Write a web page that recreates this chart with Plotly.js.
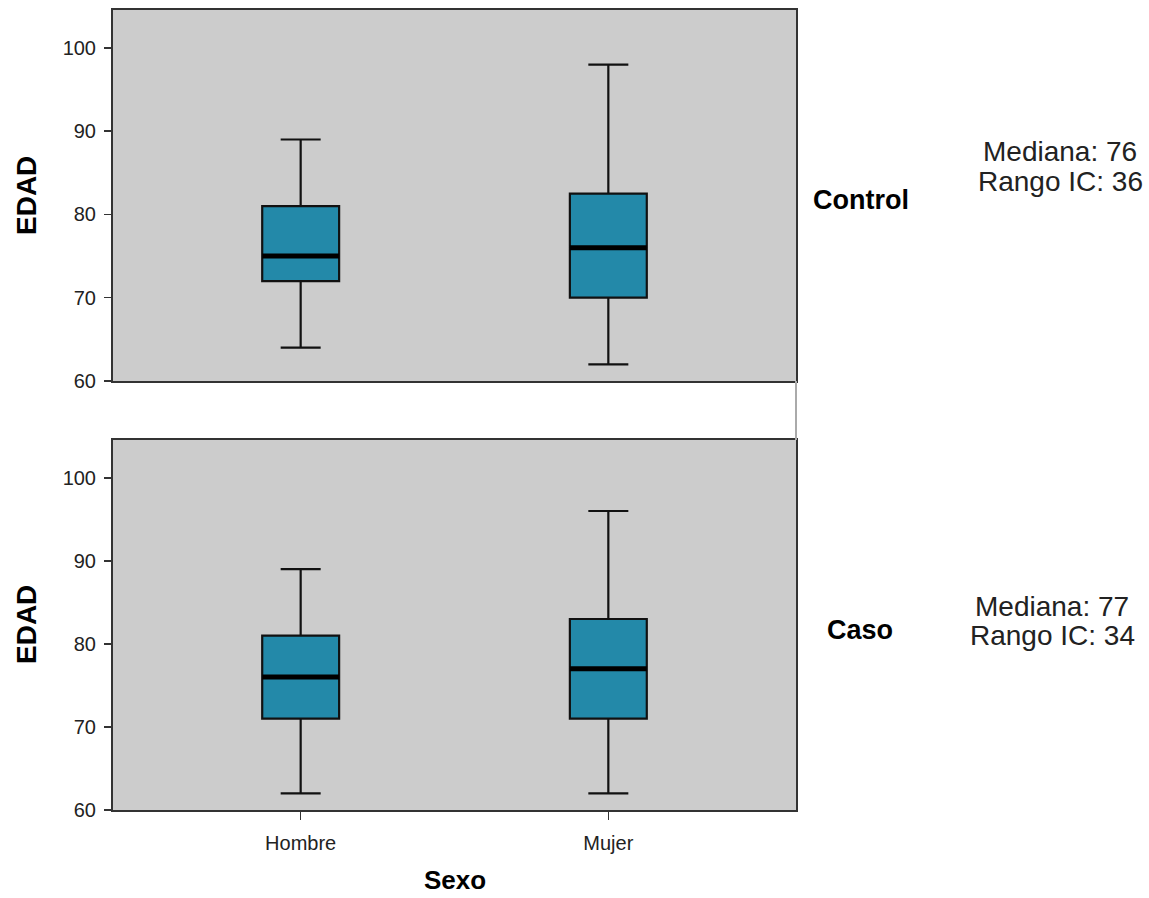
<!DOCTYPE html>
<html><head><meta charset="utf-8">
<script src="https://cdn.plot.ly/plotly-3.0.1.min.js"></script>
<style>html,body{margin:0;padding:0;background:#fff}</style>
</head><body><div id="chart" style="width:1149px;height:898px"></div>
<script>
// Data
const categories = ["Hombre", "Mujer"];
const groups = ["Control", "Caso"];
const controlQ1 = [72, 70];
const controlMedian = [75, 76];
const controlQ3 = [81, 82.5];
const controlLow = [64, 62];
const controlHigh = [89, 98];
const casoQ1 = [71, 71];
const casoMedian = [76, 77];
const casoQ3 = [81, 83];
const casoLow = [62, 62];
const casoHigh = [89, 96];
const groupMediana = [76, 77];
const groupRangoIC = [36, 34];
const yTicks = [60, 70, 80, 90, 100];

const BOXW = 0.25;
const FONT = "'Liberation Sans', Arial, sans-serif";
const pos = categories.map((c, i) => i);

function boxTrace(q1, med, q3, lo, hi, xa, ya) {
  return {
    type: "box", x: pos, q1: q1, median: med, q3: q3, lowerfence: lo, upperfence: hi,
    xaxis: xa, yaxis: ya, width: BOXW, whiskerwidth: 0.52, boxpoints: false,
    fillcolor: "#2389A9", line: {color: "#111", width: 2.2}, showlegend: false, hoverinfo: "skip"
  };
}
function medTrace(med, xa, ya) {
  const xs = [], ys = [];
  med.forEach((m, i) => { xs.push(i - BOXW / 2, i + BOXW / 2, null); ys.push(m, m, null); });
  return {type: "scatter", mode: "lines", x: xs, y: ys, xaxis: xa, yaxis: ya,
    line: {color: "#000", width: 5}, showlegend: false, hoverinfo: "skip"};
}

const data = [
  boxTrace(controlQ1, controlMedian, controlQ3, controlLow, controlHigh, "x", "y"),
  medTrace(controlMedian, "x", "y"),
  boxTrace(casoQ1, casoMedian, casoQ3, casoLow, casoHigh, "x2", "y2"),
  medTrace(casoMedian, "x2", "y2")
];

const xBase = {
  range: [-0.61, 1.61], tickvals: pos, ticktext: categories, showgrid: false, zeroline: false,
  showline: true, mirror: true, linecolor: "#333", linewidth: 2, fixedrange: true
};
const yBase = {
  range: [60, 104.55], tickvals: yTicks, ticktext: yTicks.map(String), showgrid: false, zeroline: false,
  showline: true, mirror: true, linecolor: "#333", linewidth: 2,
  ticks: "outside", ticklen: 7, tickwidth: 1.5, tickcolor: "#333",
  tickfont: {family: FONT, size: 20, color: "#222"}, ticklabelstandoff: 4
};

function ann(text, x, y, size, color, extra) {
  return Object.assign({text: text, xref: "paper", yref: "paper", x: x, y: y, showarrow: false,
    xanchor: "center", yanchor: "middle", font: {family: FONT, size: size, color: color}}, extra || {});
}
const py = (px) => (810 - px) / 800;   // pixel row -> paper y
const pxx = (px) => (px - 113) / 683;  // pixel column -> paper x

const layout = {
  width: 1149, height: 898,
  margin: {l: 113, r: 353, t: 10, b: 88},
  paper_bgcolor: "#fff", plot_bgcolor: "#CCCCCC",
  xaxis: Object.assign({}, xBase, {anchor: "y", showticklabels: false, ticks: ""}),
  yaxis: Object.assign({}, yBase, {domain: [0.53625, 1], anchor: "x"}),
  xaxis2: Object.assign({}, xBase, {anchor: "y2", ticks: "outside", ticklen: 8, tickwidth: 1.5, tickcolor: "#333",
    tickfont: {family: FONT, size: 20, color: "#222"}, ticklabelstandoff: 6}),
  yaxis2: Object.assign({}, yBase, {domain: [0, 0.4625], anchor: "x2"}),
  shapes: [{type: "line", xref: "paper", yref: "paper", x0: 1, x1: 1, y0: 0.4625, y1: 0.53625,
    line: {color: "#aaa", width: 2}}],
  annotations: [
    ann("<b>EDAD</b>", pxx(26), py(196), 28, "#000", {textangle: -90}),
    ann("<b>EDAD</b>", pxx(26), py(625), 28, "#000", {textangle: -90}),
    ann("<b>Sexo</b>", 0.5, py(880), 26, "#000"),
    ann("<b>" + groups[0] + "</b>", pxx(861), py(200), 27, "#000"),
    ann("<b>" + groups[1] + "</b>", pxx(860), py(630), 27, "#000"),
    ann("Mediana: " + groupMediana[0], pxx(1060), py(151), 28, "#222"),
    ann("Rango IC: " + groupRangoIC[0], pxx(1060), py(182), 28, "#222"),
    ann("Mediana: " + groupMediana[1], pxx(1052), py(606), 28, "#222"),
    ann("Rango IC: " + groupRangoIC[1], pxx(1052), py(635), 28, "#222")
  ]
};

Plotly.newPlot("chart", data, layout, {displayModeBar: false, staticPlot: true});
</script></body></html>
